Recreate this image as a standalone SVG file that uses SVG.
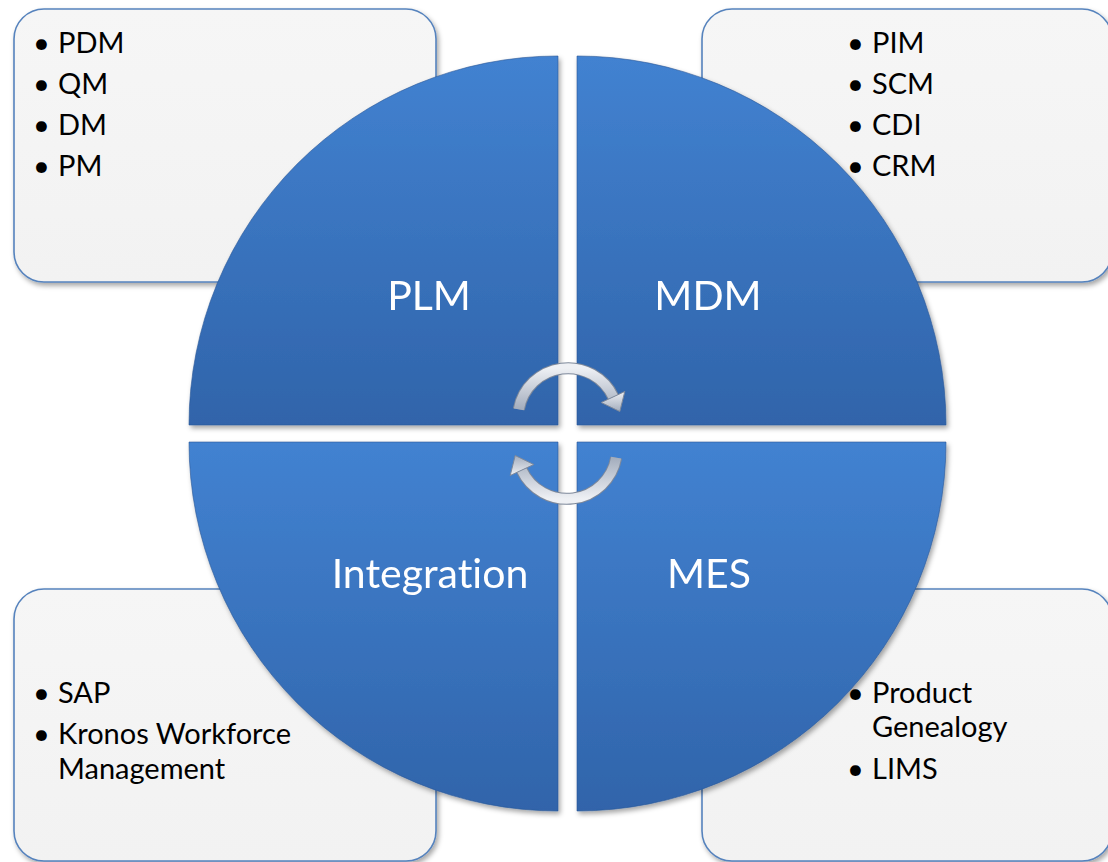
<svg xmlns="http://www.w3.org/2000/svg" width="1108" height="862" viewBox="0 0 1108 862">
<defs>
<style>
.box{fill:url(#boxg);stroke:#5683bd;stroke-width:1.6;filter:url(#sh)}
.item{font-family:Lato,"Liberation Sans",sans-serif;font-size:29px;fill:#000;font-variant-ligatures:none}
.quad{fill:url(#qg);stroke:#2a5796;stroke-width:1;stroke-opacity:0.6}
.big{font-family:Lato,"Liberation Sans",sans-serif;font-size:41px;fill:#fff;text-anchor:middle;font-variant-ligatures:none}
.arcb{fill:none;stroke:#7d889a;stroke-width:12}
.arc{fill:none;stroke:url(#ag);stroke-width:10}
.head{fill:url(#ag);stroke:#7d889a;stroke-width:1}
</style>
<linearGradient id="boxg" x1="0" y1="0" x2="0" y2="1">
<stop offset="0" stop-color="#f6f6f6"/><stop offset="1" stop-color="#f2f2f2"/>
</linearGradient>
<linearGradient id="qg" x1="0" y1="0" x2="0" y2="1">
<stop offset="0" stop-color="#4282d1"/><stop offset="1" stop-color="#3064aa"/>
</linearGradient>
<linearGradient id="ag" x1="0" y1="0" x2="0" y2="1">
<stop offset="0" stop-color="#eef0f4"/><stop offset="1" stop-color="#a3adbd"/>
</linearGradient>
<filter id="sh" x="-10%" y="-10%" width="125%" height="125%">
<feDropShadow dx="2" dy="3" stdDeviation="2.5" flood-color="#000" flood-opacity="0.35"/>
</filter>
</defs>
<rect width="1108" height="862" fill="#fff"/>

<g id="box-plm">
<rect class="box" x="14" y="9" width="422" height="273" rx="30"/>
<text class="item"><tspan x="33" y="53">•</tspan><tspan x="58" y="53">PDM</tspan><tspan x="33" y="94">•</tspan><tspan x="58" y="94">QM</tspan><tspan x="33" y="135">•</tspan><tspan x="58" y="135">DM</tspan><tspan x="33" y="176">•</tspan><tspan x="58" y="176">PM</tspan></text>
</g>
<g id="box-mdm">
<rect class="box" x="702" y="9" width="410" height="273" rx="30"/>
<text class="item"><tspan x="847" y="53">•</tspan><tspan x="872" y="53">PIM</tspan><tspan x="847" y="94">•</tspan><tspan x="872" y="94">SCM</tspan><tspan x="847" y="135">•</tspan><tspan x="872" y="135">CDI</tspan><tspan x="847" y="176">•</tspan><tspan x="872" y="176">CRM</tspan></text>
</g>
<g id="box-integration">
<rect class="box" x="14" y="589" width="422" height="272" rx="30"/>
<text class="item"><tspan x="33" y="703">•</tspan><tspan x="58" y="703">SAP</tspan><tspan x="33" y="744">•</tspan><tspan x="58" y="744">Kronos Workforce</tspan><tspan x="58" y="779">Management</tspan></text>
</g>
<g id="box-mes">
<rect class="box" x="702" y="589" width="410" height="272" rx="30"/>
<text class="item"><tspan x="847" y="703">•</tspan><tspan x="872" y="703">Product</tspan><tspan x="872" y="737">Genealogy</tspan><tspan x="847" y="779">•</tspan><tspan x="872" y="779">LIMS</tspan></text>
</g>

<g filter="url(#sh)">
<g id="plm">
<path class="quad" d="M558,425 H189 A369,369 0 0 1 558,56 Z"/>
<text class="big" x="429" y="310">PLM</text>
</g>
<g id="mdm">
<path class="quad" d="M577,425 V56 A369,369 0 0 1 946,425 Z"/>
<text class="big" x="708" y="310">MDM</text>
</g>
<g id="integration">
<path class="quad" d="M558,442 V811 A369,369 0 0 1 189,442 Z"/>
<text class="big" x="430" y="588">Integration</text>
</g>
<g id="mes">
<path class="quad" d="M577,442 H946 A369,369 0 0 1 577,811 Z"/>
<text class="big" x="709" y="588">MES</text>
</g>
</g>

<g id="connectors">
<g id="cycle-top">
<path class="arcb" d="M518.8,409.3 A50,50 0 0 1 613.3,397"/>
<path class="arc" d="M518.8,409.3 A50,50 0 0 1 613.3,397"/>
<polygon class="head" points="601.2,402.5 624.8,391.5 619.8,411.5"/>
</g>
<g id="cycle-bottom" transform="rotate(180 567.5 433.5)">
<path class="arcb" d="M518.8,409.3 A50,50 0 0 1 613.3,397"/>
<path class="arc" d="M518.8,409.3 A50,50 0 0 1 613.3,397"/>
<polygon class="head" points="601.2,402.5 624.8,391.5 619.8,411.5"/>
</g>
</g>
</svg>
